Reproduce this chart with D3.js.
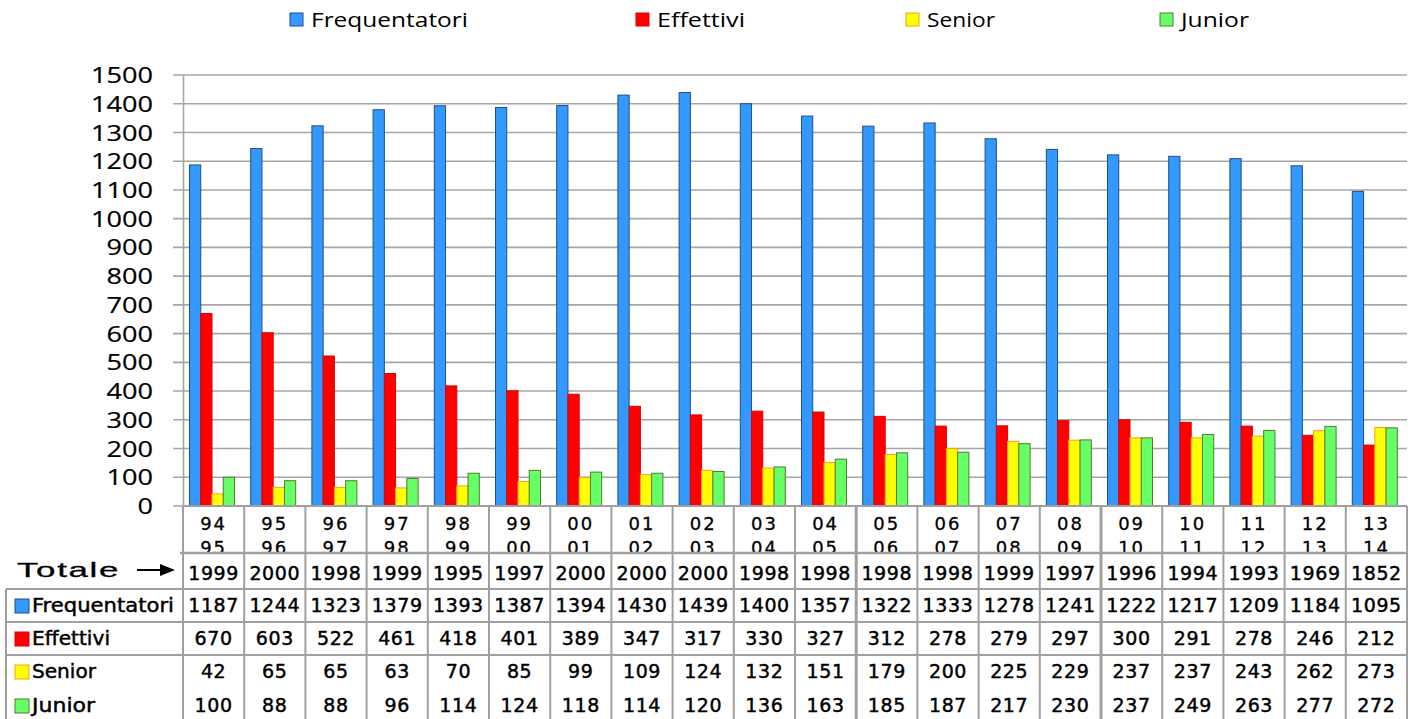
<!DOCTYPE html>
<html><head><meta charset="utf-8">
<script src="https://cdn.jsdelivr.net/npm/d3@7"></script>
<style>
html,body{margin:0;padding:0;background:#fff;}
svg{display:block;}
</style></head>
<body>
<svg id="chart" width="1414" height="719"></svg>
<script>
const categories = ["94/95","95/96","96/97","97/98","98/99","99/00","00/01","01/02","02/03","03/04","04/05","05/06","06/07","07/08","08/09","09/10","10/11","11/12","12/13","13/14"];
const totale = [1999,2000,1998,1999,1995,1997,2000,2000,2000,1998,1998,1998,1998,1999,1997,1996,1994,1993,1969,1852];
const frequentatori = [1187,1244,1323,1379,1393,1387,1394,1430,1439,1400,1357,1322,1333,1278,1241,1222,1217,1209,1184,1095];
const effettivi = [670,603,522,461,418,401,389,347,317,330,327,312,278,279,297,300,291,278,246,212];
const senior = [42,65,65,63,70,85,99,109,124,132,151,179,200,225,229,237,237,243,262,273];
const junior = [100,88,88,96,114,124,118,114,120,136,163,185,187,217,230,237,249,263,277,272];
const seriesNames = ["Frequentatori","Effettivi","Senior","Junior"];
const yTicks = [0,100,200,300,400,500,600,700,800,900,1000,1100,1200,1300,1400,1500];

const seriesValues = [frequentatori, effettivi, senior, junior];
const fills = ["#3399ff","#ff0000","#ffff00","#66ff66"];
const strokes = ["#1f4f86","#e00000","#f0a020","#557a30"];

const svg = d3.select("#chart");
const L = 183, R = 1407, T = 75, B = 506;

const x0 = d3.scaleBand().domain(categories).range([L, R]).padding(0);
const x1 = d3.scaleBand().domain(seriesNames).range([6.5, 51.5]).padding(0);
const y = d3.scaleLinear().domain([0, 1500]).range([B, T]);

// gridlines
svg.append("g").selectAll("line").data(yTicks).join("line")
  .attr("x1", L - 10).attr("x2", R)
  .attr("y1", d => y(d)).attr("y2", d => y(d))
  .attr("stroke", "#a6a6a6").attr("stroke-width", 1.6);

// y axis
const yAxis = d3.axisLeft(y).tickValues(yTicks).tickFormat(d3.format("d")).tickSize(0).tickPadding(30);
const ya = svg.append("g").attr("transform", `translate(${L},0)`).call(yAxis);
ya.select(".domain").attr("stroke", "#a6a6a6").attr("stroke-width", 1.6);
ya.selectAll("text").attr("font-family", "Open Sans").attr("font-size", 21)
  .attr("textLength", d => String(d).length * 15.5).attr("lengthAdjust", "spacingAndGlyphs")
  .attr("stroke", "#000").attr("stroke-width", 0.2)
  .attr("fill", "#000").attr("dy", "0.36em");

// bars
const groups = svg.append("g").selectAll("g").data(categories).join("g")
  .attr("transform", d => `translate(${x0(d)},0)`);
groups.selectAll("rect").data((c, i) => seriesNames.map((s, k) => ({s, k, v: seriesValues[k][i]})))
  .join("rect")
  .attr("x", d => x1(d.s))
  .attr("width", x1.bandwidth())
  .attr("y", d => y(d.v))
  .attr("height", d => y(0) - y(d.v))
  .attr("fill", d => fills[d.k])
  .attr("stroke", d => strokes[d.k])
  .attr("stroke-width", 1);

// legend
const legendX = [290, 636, 906, 1160];
const legendW = [157, 88, 68, 68];
const lg = svg.append("g");
seriesNames.forEach((s, k) => {
  lg.append("rect").attr("x", legendX[k]).attr("y", 13).attr("width", 13).attr("height", 13)
    .attr("fill", fills[k]).attr("stroke", strokes[k]).attr("stroke-width", 1);
  lg.append("text").attr("x", legendX[k] + 21).attr("y", 27)
    .attr("font-family", "Open Sans").attr("font-size", 20)
    .attr("textLength", legendW[k]).attr("lengthAdjust", "spacingAndGlyphs")
    .text(s);
});

// table
const tbl = svg.append("g");
const lineColor = "#a0a0a0";
const rowBase = { cat1: 530, cat2: 554, tot: 580, rows: [612, 645, 678, 712] };

svg.append("clipPath").attr("id", "catclip").append("rect")
  .attr("x", L).attr("y", 506).attr("width", R - L).attr("height", 47);
const catG = tbl.append("g").attr("clip-path", "url(#catclip)");
categories.forEach(c => {
  const [a, b] = c.split("/");
  const cx = x0(c) + x0.bandwidth() / 2;
  catG.append("text").attr("x", cx).attr("y", rowBase.cat1).attr("text-anchor", "middle")
    .attr("font-family", "DejaVu Sans").attr("font-size", 18).attr("letter-spacing", 2)
    .attr("stroke", "#000").attr("stroke-width", 0.3).text(a);
  catG.append("text").attr("x", cx).attr("y", rowBase.cat2).attr("text-anchor", "middle")
    .attr("font-family", "DejaVu Sans").attr("font-size", 18).attr("letter-spacing", 2)
    .attr("stroke", "#000").attr("stroke-width", 0.3).text(b);
});

const numFont = t => t.attr("font-family", "DejaVu Sans").attr("font-size", 19).attr("letter-spacing", 0.6)
  .attr("text-anchor", "middle").attr("fill", "#000").attr("stroke", "#000").attr("stroke-width", 0.45);
tbl.append("g").selectAll("text").data(totale).join("text")
  .attr("x", (d, i) => x0(categories[i]) + x0.bandwidth() / 2).attr("y", rowBase.tot)
  .call(numFont).text(d => d);
seriesValues.forEach((vals, k) => {
  tbl.append("g").selectAll("text").data(vals).join("text")
    .attr("x", (d, i) => x0(categories[i]) + x0.bandwidth() / 2).attr("y", rowBase.rows[k])
    .call(numFont).text(d => d);
});

const labelW = [142, 78, 64, 63];
seriesNames.forEach((s, k) => {
  const by = rowBase.rows[k];
  tbl.append("rect").attr("x", 15).attr("y", by - 13).attr("width", 14).attr("height", 14)
    .attr("fill", fills[k]).attr("stroke", strokes[k]).attr("stroke-width", 1);
  tbl.append("text").attr("x", 32).attr("y", by)
    .attr("font-family", "DejaVu Sans").attr("font-size", 19)
    .attr("stroke", "#000").attr("stroke-width", 0.45)
    .attr("textLength", labelW[k]).attr("lengthAdjust", "spacingAndGlyphs").text(s);
});

// Totale arrow label
tbl.append("text").attr("x", 17).attr("y", 577)
  .attr("font-family", "Liberation Sans").attr("font-size", 21).attr("letter-spacing", 1)
  .attr("stroke", "#000").attr("stroke-width", 0.3)
  .attr("textLength", 103).attr("lengthAdjust", "spacingAndGlyphs").text("Totale");
tbl.append("line").attr("x1", 137).attr("x2", 163).attr("y1", 570).attr("y2", 570)
  .attr("stroke", "#000").attr("stroke-width", 2);
tbl.append("path").attr("d", "M160,564 L175,570 L160,576 Z").attr("fill", "#000");

const hl = (x1_, x2_, yy, w) => tbl.append("line").attr("x1", x1_).attr("x2", x2_).attr("y1", yy).attr("y2", yy)
  .attr("stroke", lineColor).attr("stroke-width", w || 2);
hl(L - 3, R, 553, 2.5);
hl(6, R, 589);
hl(6, R, 622);
hl(6, R, 655);
tbl.append("line").attr("x1", 6).attr("x2", 6).attr("y1", 589).attr("y2", 719).attr("stroke", lineColor).attr("stroke-width", 2);
const thick = new Set(["05/06", "09/10"]);
categories.forEach(c => {
  tbl.append("line").attr("x1", x0(c)).attr("x2", x0(c)).attr("y1", B).attr("y2", 719)
    .attr("stroke", lineColor).attr("stroke-width", thick.has(c) ? 3 : 2);
});
tbl.append("line").attr("x1", R).attr("x2", R).attr("y1", B).attr("y2", 719).attr("stroke", lineColor).attr("stroke-width", 2);
hl(L, R, B, 2);
</script>
</body></html>
